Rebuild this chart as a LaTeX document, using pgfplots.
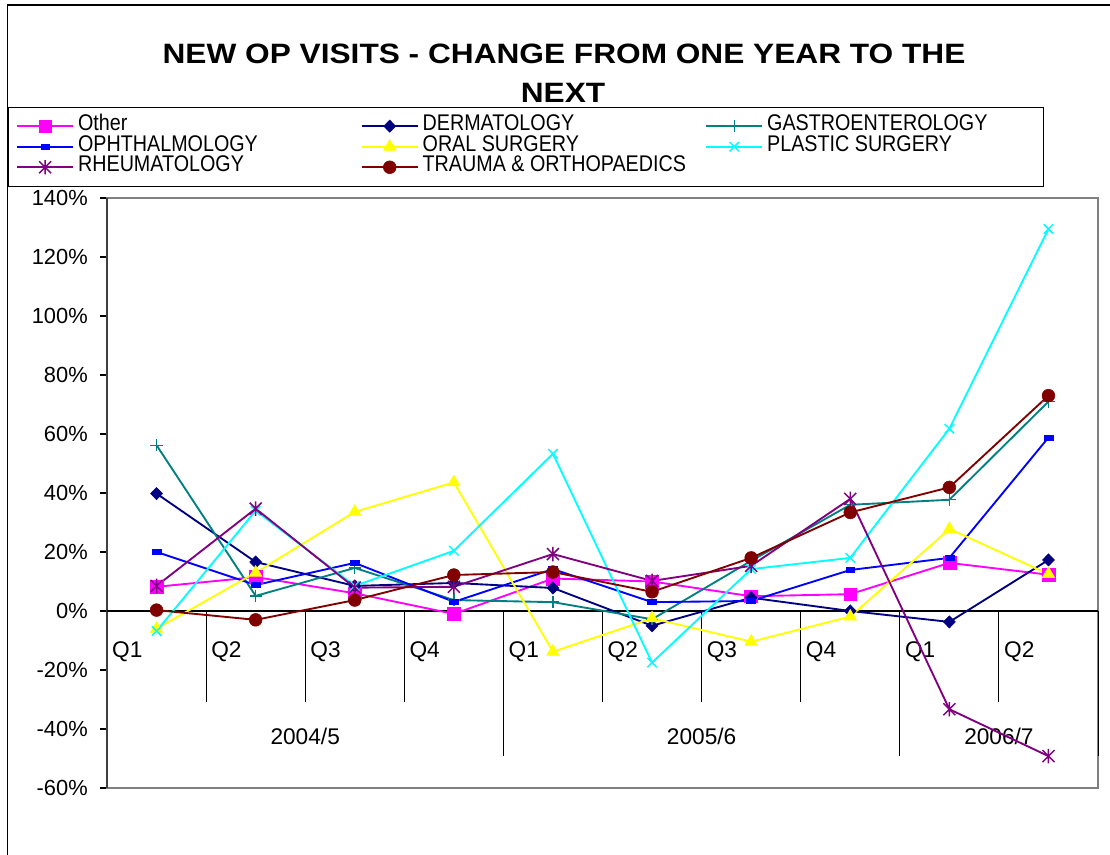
\documentclass[border=0pt]{standalone}
\usepackage{fontspec}
\setmainfont{Liberation Sans}
\usepackage{pgfplots}
\pgfplotsset{compat=1.18}
\usepackage{graphicx}

\definecolor{cOther}{RGB}{255,0,255}
\definecolor{cDerm}{RGB}{0,0,128}
\definecolor{cGastro}{RGB}{0,128,128}
\definecolor{cOph}{RGB}{0,0,255}
\definecolor{cOral}{RGB}{255,255,0}
\definecolor{cPlast}{RGB}{0,255,255}
\definecolor{cRheum}{RGB}{128,0,128}
\definecolor{cTrauma}{RGB}{128,0,0}
\definecolor{cFrame}{RGB}{128,128,128}
\definecolor{cAxis}{RGB}{64,64,64}

\pgfdeclareplotmark{xstar}{%
  \pgfpathmoveto{\pgfqpoint{-\pgfplotmarksize}{-\pgfplotmarksize}}%
  \pgfpathlineto{\pgfqpoint{\pgfplotmarksize}{\pgfplotmarksize}}%
  \pgfpathmoveto{\pgfqpoint{-\pgfplotmarksize}{\pgfplotmarksize}}%
  \pgfpathlineto{\pgfqpoint{\pgfplotmarksize}{-\pgfplotmarksize}}%
  \pgfpathmoveto{\pgfqpoint{0pt}{-1.2\pgfplotmarksize}}%
  \pgfpathlineto{\pgfqpoint{0pt}{1.2\pgfplotmarksize}}%
  \pgfusepathqstroke}

\newcommand{\LA}[1]{\makebox[212pt][l]{\scalebox{0.87}[1]{#1}}}
\newcommand{\LB}[1]{\makebox[201pt][l]{\scalebox{0.87}[1]{#1}}}
\newcommand{\tfont}{\fontsize{17pt}{20pt}\selectfont}

\begin{document}
\begin{tikzpicture}
\path[use as bounding box] (0,0) rectangle (832.5pt,641.25pt);
\draw[line width=0.8pt] (5.6pt,0) -- (5.6pt,637.5pt) -- (832.5pt,637.5pt);
\node[anchor=base, font=\fontsize{21pt}{25pt}\selectfont\bfseries, inner sep=0pt] at (423pt,593.8pt) {\scalebox{1.13}[1]{NEW OP VISITS - CHANGE FROM ONE YEAR TO THE}};
\node[anchor=base, font=\fontsize{21pt}{25pt}\selectfont\bfseries, inner sep=0pt] at (422.25pt,564pt) {\scalebox{1.13}[1]{NEXT}};
\begin{axis}[
  at={(80.25pt,50.25pt)}, anchor=south west,
  scale only axis, width=743.25pt, height=442.5pt,
  xmin=-0.5, xmax=9.5, ymin=-60, ymax=140,
  xtick=\empty,
  ytick={-60,-40,...,140},
  yticklabels={-60\%,-40\%,-20\%,0\%,20\%,40\%,60\%,80\%,100\%,120\%,140\%},
  ytick pos=left,
  tick align=outside,
  major tick length=5.25pt,
  tick style={black, line width=0.8pt},
  yticklabel style={font=\fontsize{16.4pt}{19pt}\selectfont, anchor=east, inner xsep=0pt, xshift=-9pt},
  axis line style={draw=cFrame, line width=1.5pt},
  clip=false,
  legend columns=3,
  legend style={at={(-0.0999,1.15424)}, anchor=north west, draw=black,
    inner xsep=6pt, inner ysep=6.5pt, font=\tfont,
    nodes={inner sep=0pt, text height=11pt, text depth=4.4pt},
    /tikz/every odd column/.append style={column sep=3pt}},
  legend cell align=left,
  legend image post style={line width=1.4pt},
  legend image code/.code={\draw[mark repeat=2,mark phase=2,#1] plot coordinates {(0pt,0pt) (21pt,0pt) (42pt,0pt)};},
  every axis plot/.append style={line width=1.4pt},
]
% category axis decorations
\draw[cAxis, line width=1.1pt] (rel axis cs:0,0) -- (rel axis cs:0,1);
\draw[black, line width=0.8pt] (axis cs:-0.5,0) -- (axis cs:9.5,0);
\draw[black, line width=0.7pt] (axis cs:0.5,0) -- (axis cs:0.5,-30.85);
\draw[black, line width=0.7pt] (axis cs:1.5,0) -- (axis cs:1.5,-30.85);
\draw[black, line width=0.7pt] (axis cs:2.5,0) -- (axis cs:2.5,-30.85);
\draw[black, line width=0.7pt] (axis cs:4.5,0) -- (axis cs:4.5,-30.85);
\draw[black, line width=0.7pt] (axis cs:5.5,0) -- (axis cs:5.5,-30.85);
\draw[black, line width=0.7pt] (axis cs:6.5,0) -- (axis cs:6.5,-30.85);
\draw[black, line width=0.7pt] (axis cs:8.5,0) -- (axis cs:8.5,-30.85);
\draw[black, line width=0.7pt] (axis cs:3.5,0) -- (axis cs:3.5,-49.15);
\draw[black, line width=0.7pt] (axis cs:7.5,0) -- (axis cs:7.5,-49.15);
\draw[black, line width=0.7pt] (axis cs:9.5,0) -- (axis cs:9.5,-49.15);
\node[anchor=base west, font=\tfont, inner sep=0pt] at (axis cs:-0.45,-15.6) {Q1};
\node[anchor=base west, font=\tfont, inner sep=0pt] at (axis cs:0.55,-15.6) {Q2};
\node[anchor=base west, font=\tfont, inner sep=0pt] at (axis cs:1.55,-15.6) {Q3};
\node[anchor=base west, font=\tfont, inner sep=0pt] at (axis cs:2.55,-15.6) {Q4};
\node[anchor=base west, font=\tfont, inner sep=0pt] at (axis cs:3.55,-15.6) {Q1};
\node[anchor=base west, font=\tfont, inner sep=0pt] at (axis cs:4.55,-15.6) {Q2};
\node[anchor=base west, font=\tfont, inner sep=0pt] at (axis cs:5.55,-15.6) {Q3};
\node[anchor=base west, font=\tfont, inner sep=0pt] at (axis cs:6.55,-15.6) {Q4};
\node[anchor=base west, font=\tfont, inner sep=0pt] at (axis cs:7.55,-15.6) {Q1};
\node[anchor=base west, font=\tfont, inner sep=0pt] at (axis cs:8.55,-15.6) {Q2};
\node[anchor=base, font=\tfont, inner sep=0pt] at (axis cs:1.5,-45.4) {2004/5};
\node[anchor=base, font=\tfont, inner sep=0pt] at (axis cs:5.5,-45.4) {2005/6};
\node[anchor=base, font=\tfont, inner sep=0pt] at (axis cs:8.5,-45.4) {2006/7};

\addplot[color=cOther, mark=square*, mark size=4.8pt, mark options={solid, line width=0.4pt}] coordinates {
(0,8.2) (1,11.5) (2,6) (3,-1) (4,11) (5,10) (6,5) (7,5.7) (8,16.3) (9,12.3)};
\addlegendentry{\LA{Other}}
\addplot[color=cDerm, mark=diamond*, mark size=4.6pt, mark options={solid, line width=0.4pt, xscale=1.3}] coordinates {
(0,39.8) (1,16.6) (2,8.5) (3,9.5) (4,7.8) (5,-5) (6,4.5) (7,0) (8,-3.7) (9,17.3)};
\addlegendentry{\LA{DERMATOLOGY}}
\addplot[color=cGastro, mark=+, mark size=4.6pt, mark options={solid, line width=1pt}] coordinates {
(0,56.2) (1,5.1) (2,14.6) (3,3.7) (4,3) (5,-2.8) (6,17) (7,36) (8,37.7) (9,71)};
\addlegendentry{\LB{GASTROENTEROLOGY}}
\addplot[color=cOph, mark=square*, mark size=3.3pt, mark options={solid, line width=0.4pt, yscale=0.55}] coordinates {
(0,20) (1,8.8) (2,16.3) (3,3.1) (4,14.2) (5,3) (6,3.4) (7,13.9) (8,18) (9,58.8)};
\addlegendentry{\LA{OPHTHALMOLOGY}}
\addplot[color=cOral, mark=triangle*, mark size=5.4pt, mark options={solid, line width=0.4pt}] coordinates {
(0,-6) (1,13) (2,33.6) (3,43.6) (4,-13.8) (5,-2.5) (6,-10.4) (7,-1.9) (8,27.8) (9,12.5)};
\addlegendentry{\LA{ORAL SURGERY}}
\addplot[color=cPlast, mark=x, mark size=5pt, mark options={solid, line width=1.1pt}] coordinates {
(0,-6.8) (1,34) (2,8.5) (3,20.4) (4,53.3) (5,-17.5) (6,14.2) (7,18) (8,61.8) (9,129.5)};
\addlegendentry{\LB{PLASTIC SURGERY}}
\addplot[color=cRheum, mark=xstar, mark size=4.5pt, mark options={solid, line width=1.1pt}] coordinates {
(0,8.5) (1,34.7) (2,7.9) (3,8.2) (4,19.3) (5,10.2) (6,15.3) (7,38) (8,-33.3) (9,-49.2)};
\addlegendentry{\LA{RHEUMATOLOGY}}
\addplot[color=cTrauma, mark=*, mark size=4.8pt, mark options={solid, line width=0.4pt}] coordinates {
(0,0.3) (1,-3) (2,3.7) (3,12.2) (4,13.2) (5,6.5) (6,18) (7,33.4) (8,41.9) (9,73)};
\addlegendentry{\LA{TRAUMA \& ORTHOPAEDICS}}
\end{axis}
\end{tikzpicture}
\end{document}
